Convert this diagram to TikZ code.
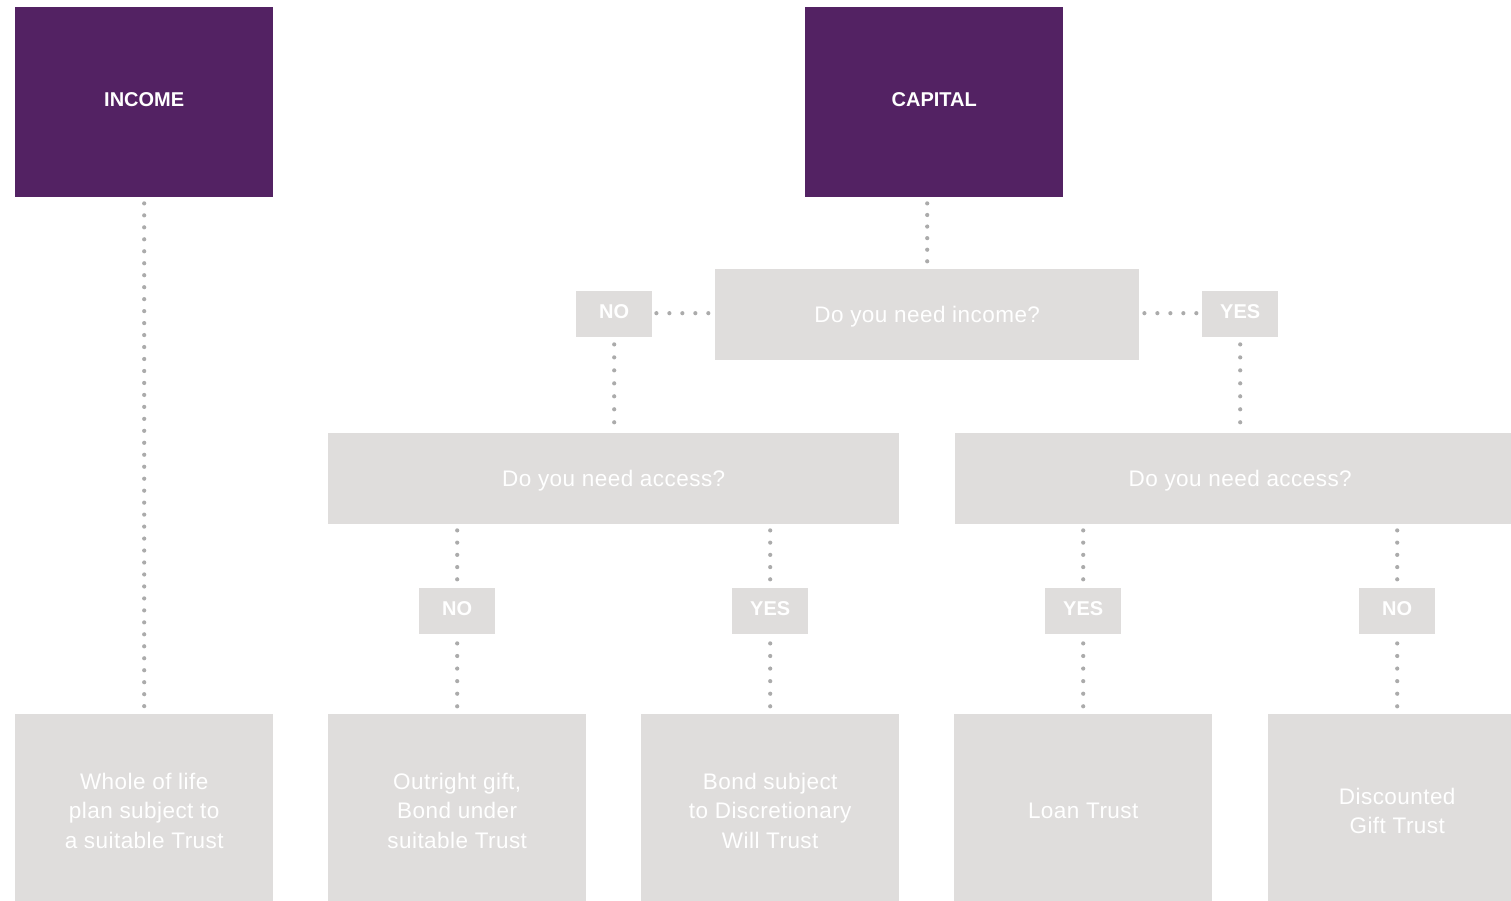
\documentclass[tikz,border=0pt]{standalone}
\usepackage{fontspec}
\setmainfont{Liberation Sans}
\newfontfamily\bodyfont[LetterSpace=2]{Liberation Sans}
\definecolor{plum}{HTML}{532263}
\definecolor{boxgray}{HTML}{DFDDDC}
\definecolor{dotgray}{HTML}{ABABAB}
\tikzset{
  head/.style={fill=plum, text=white, font=\fontsize{20}{24}\selectfont\bfseries, anchor=north west, inner sep=0pt, minimum width=258pt, minimum height=190pt, text depth=6pt},
  gbox/.style={fill=boxgray, anchor=north west, inner sep=0pt},
  gtext/.style={text=white, font=\bodyfont\fontsize{22.5}{29.5}\selectfont, align=center, inner sep=0pt},
  tag/.style={fill=boxgray, text=white, font=\fontsize{20}{24}\selectfont\bfseries, anchor=north west, inner sep=0pt, minimum width=76pt, minimum height=46pt, text depth=6pt},
  dots/.style={dotgray, line width=4.2pt, line cap=round, dash pattern=on 0pt off #1, shorten >=-2pt},
}
\begin{document}
\begin{tikzpicture}[x=1pt,y=-1pt]
\useasboundingbox (0,0) rectangle (1511,901);
% headers
\node[head] (income) at (15,7) {INCOME};
\node[head] (capital) at (805,7) {CAPITAL};
% questions
\node[gbox, minimum width=424pt, minimum height=91pt, label={[gtext, yshift=-2pt]center:Do you need income?}] (qinc) at (715,269) {};
\node[gbox, minimum width=571pt, minimum height=91pt, label={[gtext, yshift=-2pt]center:Do you need access?}] (qaccL) at (328,433) {};
\node[gbox, minimum width=570pt, minimum height=91pt, label={[gtext, yshift=-2pt]center:Do you need access?}] (qaccR) at (955,433) {};
% tags
\node[tag] (no1) at (576,291) {NO};
\node[tag] (yes1) at (1202,291) {YES};
\node[tag] (no2) at (419,588) {NO};
\node[tag] (yes2) at (732,588) {YES};
\node[tag] (yes3) at (1045,588) {YES};
\node[tag] (no3) at (1359,588) {NO};
% outcomes
\node[gbox, minimum width=258pt, minimum height=187pt, label={[gtext, yshift=-3pt]center:{Whole of life\\plan subject to\\a suitable Trust}}] (whole) at (15,714) {};
\node[gbox, minimum width=258pt, minimum height=187pt, label={[gtext, yshift=-3pt]center:{Outright gift,\\Bond under\\suitable Trust}}] (outright) at (328,714) {};
\node[gbox, minimum width=258pt, minimum height=187pt, label={[gtext, yshift=-3pt]center:{Bond subject\\to Discretionary\\Will Trust}}] (bond) at (641,714) {};
\node[gbox, minimum width=258pt, minimum height=187pt, label={[gtext, yshift=-3pt]center:Loan Trust}] (loan) at (954,714) {};
\node[gbox, minimum width=258pt, minimum height=187pt, label={[gtext, yshift=-3pt]center:{Discounted\\Gift Trust}}] (dgt) at (1268,714) {};
% connectors
\draw[dots=11.97pt] ([yshift=-6pt]income.south) -- ([yshift=8pt]whole.north);
\draw[dots=11.58pt] ([yshift=-6pt]capital.south -| qinc.north) -- ([yshift=8pt]qinc.north);
\draw[dots=12.98pt] ([xshift=4pt,yshift=1.5pt]no1.east |- qinc.west) -- ([xshift=-7pt,yshift=1.5pt]qinc.west);
\draw[dots=12.98pt] ([xshift=5pt,yshift=1.5pt]qinc.east) -- ([xshift=-6pt,yshift=1.5pt]yes1.west |- qinc.east);
\draw[dots=12.98pt] ([yshift=-7pt]no1.south) -- ([yshift=11pt]no1.south |- qaccL.north);
\draw[dots=12.98pt] ([yshift=-7pt]yes1.south) -- ([yshift=11pt]yes1.south |- qaccR.north);
\draw[dots=12.23pt] ([yshift=-6pt]no2.north |- qaccL.south) -- ([yshift=9pt]no2.north);
\draw[dots=12.23pt] ([yshift=-6pt]yes2.north |- qaccL.south) -- ([yshift=9pt]yes2.north);
\draw[dots=12.23pt] ([yshift=-6pt]yes3.north |- qaccR.south) -- ([yshift=9pt]yes3.north);
\draw[dots=12.23pt] ([yshift=-6pt]no3.north |- qaccR.south) -- ([yshift=9pt]no3.north);
\draw[dots=12.58pt] ([yshift=-9pt]no2.south) -- ([yshift=8pt]outright.north);
\draw[dots=12.58pt] ([yshift=-9pt]yes2.south) -- ([yshift=8pt]bond.north);
\draw[dots=12.58pt] ([yshift=-9pt]yes3.south) -- ([yshift=8pt]loan.north);
\draw[dots=12.58pt] ([yshift=-9pt]no3.south) -- ([yshift=8pt]dgt.north);
\end{tikzpicture}
\end{document}
